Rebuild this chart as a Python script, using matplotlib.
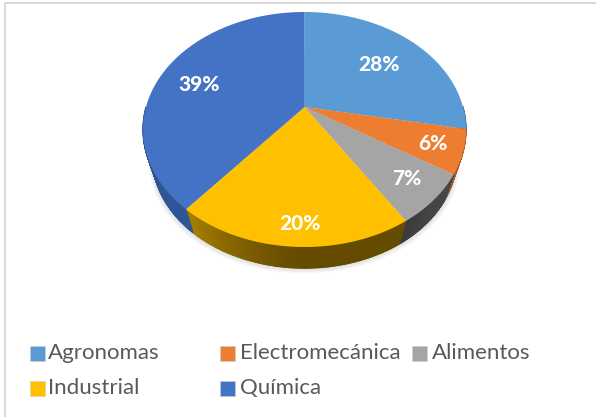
import numpy as np
import matplotlib
matplotlib.use("Agg")
import matplotlib.pyplot as plt
from matplotlib.patches import Polygon, Rectangle

plt.rcParams['font.family'] = ['Lato', 'DejaVu Sans']

categorias = ["Agronomas", "Electromecánica", "Alimentos", "Industrial", "Química"]
valores = [28, 6, 7, 20, 39]
colores = ["#5B9BD5", "#ED7D31", "#A5A5A5", "#FFC000", "#4472C4"]
lados_ini = ["#3F6F9C", "#A95A22", "#454545", "#654B00", "#2F5597"]
lados_fin = ["#3F6F9C", "#A95A22", "#3A3A3A", "#A88000", "#2F5597"]

W, H = 596, 417
CX, CY = 304.5, 107
A, B, K = 158.5, 113.2, 0.1915
FUGA_Y, S = 600, 0.06  # punto de fuga de la pared lateral


def proyectar(angulo):
    # angulo en grados, horario desde las 12
    t = np.radians(angulo)
    u, v = np.sin(t), np.cos(t)
    d = 1 + K * v
    return CX + A * u / d, CY - B * v / d


def bajar(x, y):
    return x + (CX - x) * S, y + (FUGA_Y - y) * S


fig = plt.figure(figsize=(W / 100, H / 100), dpi=100)
ax = fig.add_axes([0, 0, 1, 1])
ax.set_xlim(0, W)
ax.set_ylim(H, 0)
ax.axis("off")

# marco del grafico
ax.plot([5, 5, W], [H, 2.5, 2.5], color="#D9D9D9", lw=1.5, solid_capstyle="butt")

# sombra suave debajo del pastel
sx, sy = bajar(*proyectar(np.linspace(0, 360, 361)))
for i in range(6):
    esc = 1 + 0.004 * (6 - i)
    ax.add_patch(Polygon(np.c_[CX + (sx - CX) * esc, sy + (6 - i) * 0.9],
                         fc="#808080", ec="none", alpha=0.045, zorder=1))

limites = np.cumsum([0] + valores) * 3.6

# pared lateral, en tiras para el degradado
for i in range(len(valores)):
    a0, a1 = limites[i], limites[i + 1]
    angs = np.linspace(a0, a1, max(int(a1 - a0), 1) * 3 + 1)
    ci = np.array(matplotlib.colors.to_rgb(lados_ini[i]))
    cf = np.array(matplotlib.colors.to_rgb(lados_fin[i]))
    for j in range(len(angs) - 1):
        x0, y0 = proyectar(angs[j])
        x1, y1 = proyectar(angs[j + 1])
        if max(y0, y1) < CY:
            continue
        # el tramo final de cada porcion se aclara
        f = (j + 0.5) / (len(angs) - 1)
        col = ci + (cf - ci) * max(0, (f - 0.45) / 0.55) ** 1.3
        ax.add_patch(Polygon([(x0, y0), (x1, y1), bajar(x1, y1), bajar(x0, y0)],
                             fc=col, ec=col, lw=0.8, zorder=2))

# cara superior
for i in range(len(valores)):
    angs = np.linspace(limites[i], limites[i + 1], 120)
    x, y = proyectar(angs)
    pts = np.r_[[[CX, CY]], np.c_[x, y]]
    ax.add_patch(Polygon(pts, fc=colores[i], ec="none", zorder=3))

# etiquetas de porcentaje
pos_etq = [(379, 64), (433, 144), (407, 178), (300, 223), (199, 84)]
for v, (px, py) in zip(valores, pos_etq):
    ax.text(px, py, f"{v}%", color="white", fontsize=15, fontweight="black",
            ha="center", va="center", zorder=5)

# leyenda
marca_x = [30, 220, 412, 30, 220]
texto_x = [48, 240, 432, 48, 240]
fila_y = [353, 353, 353, 388, 388]
for nombre, col, mx, tx, ly in zip(categorias, colores, marca_x, texto_x, fila_y):
    ax.add_patch(Rectangle((mx, ly - 7.5), 15, 15, fc=col, ec="#D0D0D0", lw=0.4, zorder=4))
    ax.text(tx, ly, nombre, color="#595959", fontsize=16, ha="left", va="center", zorder=5)

fig.savefig("out.png", dpi=100)
